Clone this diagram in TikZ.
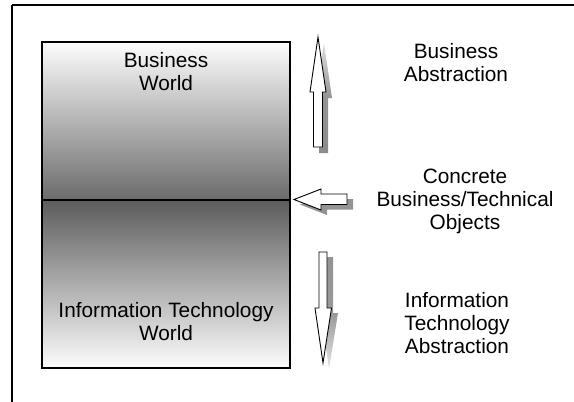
\documentclass[tikz,border=0pt]{standalone}
\usepackage{fontspec}
\setmainfont{Liberation Sans}
\begin{document}
\begin{tikzpicture}[x=1pt,y=-1pt,
  frame/.style={line width=2pt},
  world/.style={draw=black,line width=1.1pt},
  % anchor=base sits on the baseline of the last line
  label/.style={anchor=base,align=center,inner sep=0pt,
    font=\fontsize{20.8}{22.8}\selectfont},
  arrowbody/.style={draw=black,line width=0.9pt,fill=white,line join=miter},
  arrowshadow/.style={fill=black!42,draw=none}]
\useasboundingbox (0,0) rectangle (574,402);
\fill[white] (0,0) rectangle (574,402);

% outer frame (top and left edges)
\draw[frame] (12,5) -- (575,5);
\draw[frame] (12,5) -- (12,403);

% world box with two gradients meeting at the middle line
\shade[top color=white!99!black,bottom color=black!58] (42,42) rectangle (290,200);
\shade[top color=black!64,bottom color=white!99!black] (42,200) rectangle (290,368);
\draw[world] (42,42) rectangle (290,368);
\coordinate (midL) at (42,200);
\coordinate (midR) at (290,200);
\draw[line width=1.2pt] (midL) -- (midR);

\node[label] (bw) at (166,90) {Business\\World};
\node[label] (itw) at (166,340) {Information Technology\\World};

% up arrow: business abstraction
\shade[top color=black!12,bottom color=black!45,middle color=black!42]
  (324,43) -- (332,98) -- (328,98) -- (328,153) -- (319,153) -- (319,98) -- (315,98) -- cycle;
\draw[arrowbody] (318,37) -- (326,92) -- (322.5,92) -- (322.5,147)
  -- (313.5,147) -- (313.5,92) -- (310,92) -- cycle;

% left arrow: concrete objects
\fill[arrowshadow] (300,204.5) -- (327,194) -- (327,199) -- (353,199)
  -- (353,209.5) -- (327,209.5) -- (327,215) -- cycle;
\draw[arrowbody] (294,199.5) -- (321,189) -- (321,194) -- (347,194)
  -- (347,204.5) -- (321,204.5) -- (321,210) -- cycle;

% down arrow: information technology abstraction
\shade[top color=black!42,bottom color=black!10,middle color=black!40]
  (325,257) -- (333,257) -- (333,313) -- (338,313) -- (329,369) -- (321,313) -- (325,313) -- cycle;
\draw[arrowbody] (319,252) -- (327,252) -- (327,308) -- (331.5,308)
  -- (323,363) -- (315,308) -- (319,308) -- cycle;

\node[label] (ba) at (456,81) {Business\\Abstraction};
\node[label] (cb) at (465,229) {Concrete\\Business/Technical\\Objects};
\node[label] (ita) at (457,353) {Information\\Technology\\Abstraction};
\end{tikzpicture}
\end{document}
